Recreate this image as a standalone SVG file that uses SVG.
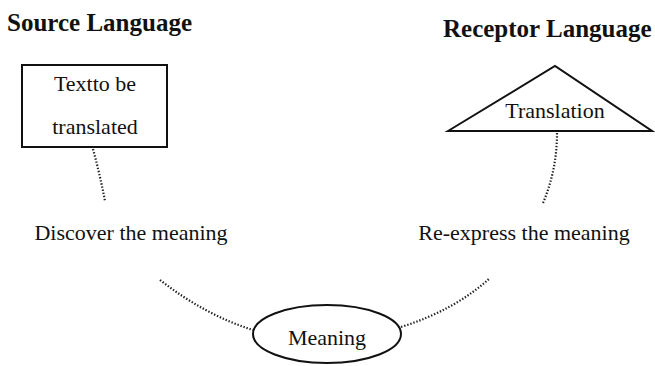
<svg xmlns="http://www.w3.org/2000/svg" width="655" height="366" viewBox="0 0 655 366">
<style>
text{font-family:"Liberation Serif","Times New Roman",serif;fill:#111;}
.h{font-weight:bold;font-size:25px;}
.t{font-size:22px;}
.shape{fill:#fff;stroke:#111;stroke-width:2;}
.dot{fill:none;stroke:#222;stroke-width:2.2;stroke-dasharray:1.4 1.8;}
</style>
<rect width="655" height="366" fill="#fff"/>
<text class="h" x="7" y="31">Source Language</text>
<text class="h" x="443" y="37">Receptor Language</text>
<g id="connectors">
<path class="dot" d="M93,149 Q100,175 105,201"/>
<path class="dot" d="M557,133 Q557,170 543,203"/>
<path class="dot" d="M160,280 Q205,315 253,330"/>
<path class="dot" d="M401,327 Q455,310 490,278"/>
</g>
<g id="source-text">
<rect class="shape" x="22" y="65" width="145" height="82"/>
<text class="t" x="95" y="91" text-anchor="middle">Textto be</text>
<text class="t" x="95" y="134" text-anchor="middle">translated</text>
</g>
<g id="translation">
<polygon class="shape" points="448,131 555,66 652,131"/>
<text class="t" x="555" y="118" text-anchor="middle">Translation</text>
</g>
<g id="discover">
<text class="t" x="131" y="240" text-anchor="middle">Discover the meaning</text>
</g>
<g id="reexpress">
<text class="t" x="524" y="240" text-anchor="middle">Re-express the meaning</text>
</g>
<g id="meaning">
<ellipse class="shape" cx="327" cy="334" rx="74" ry="29"/>
<text class="t" x="327" y="345" text-anchor="middle">Meaning</text>
</g>
</svg>
